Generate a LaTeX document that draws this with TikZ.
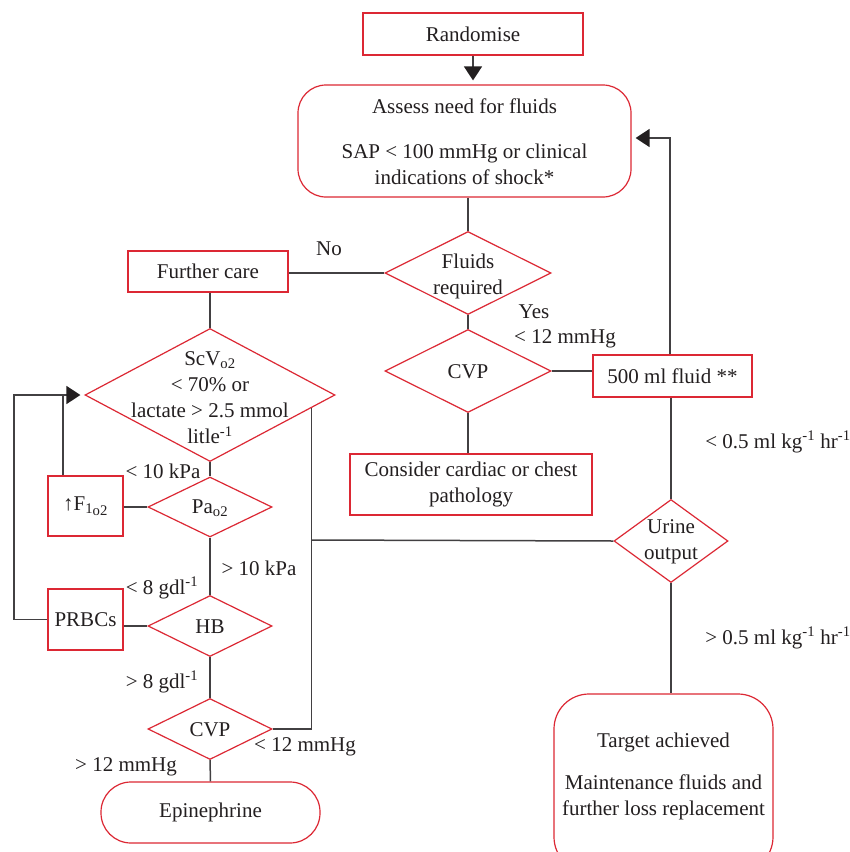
\documentclass[tikz,border=0pt]{standalone}
\usepackage{fontspec}
\setmainfont{Liberation Serif}
\usetikzlibrary{shapes.geometric,arrows.meta,calc}
\definecolor{redb}{RGB}{220,40,52}
\definecolor{lineg}{RGB}{66,64,66}
\definecolor{ink}{RGB}{35,31,32}
\tikzset{
  box/.style={draw=redb, line width=1.2pt, rectangle, inner sep=0pt, fill=white, text=ink, font=\fs, align=center},
  dia/.style={draw=redb, line width=1.2pt, diamond, inner sep=0pt, fill=white},
  txt/.style={text=ink, align=center, font=\fs, inner sep=0pt},
  conn/.style={draw=lineg, line width=1.5pt},
  arr/.style={conn, -{Triangle[length=14pt,width=18pt,color=ink]}, shorten >=4pt},
}
\newcommand{\fs}{\fontsize{21}{26}\selectfont}
\begin{document}
\begin{tikzpicture}[x=1pt,y=-1pt]
\clip (0,0) rectangle (850,852);
\fill[white] (0,0) rectangle (850,852);

% shapes
\node[box, minimum width=220pt, minimum height=42pt] (rand) at (473,34) {Randomise};
\node[box, rounded corners=28pt, minimum width=333pt, minimum height=112pt] (assess) at (464.5,141) {};
\node[txt] (assesst) at (464.5,142) {Assess need for fluids\\[19pt]SAP < 100 mmHg or clinical\\indications of shock*};
\node[dia, minimum width=166pt, minimum height=83pt] (fluids) at (468,273) {};
\node[txt] (fluidst) at (468,276) {Fluids\\required};
\node[box, minimum width=160pt, minimum height=41pt] (fcare) at (208,271.5) {Further care};
\node[dia, minimum width=250pt, minimum height=133pt] (scv) at (210,395) {};
\node[txt] (scvt) at (210,398) {ScV\textsubscript{o2}\\< 70\% or\\lactate > 2.5 mmol\\litle\textsuperscript{-1}};
\node[dia, minimum width=166pt, minimum height=83pt] (cvp) at (468,371) {};
\node[txt] (cvpt) at (468,372) {CVP};
\node[box, minimum width=159pt, minimum height=42pt] (f500) at (672.5,376) {500 ml fluid **};
\node[box, minimum width=242pt, minimum height=61pt] (consider) at (471,484.5) {Consider cardiac or chest\\pathology};
\node[dia, minimum width=114pt, minimum height=83pt] (urine) at (671,541) {};
\node[txt] (urinet) at (671,542) {Urine\\output};
\node[box, rounded corners=35pt, minimum width=219pt, minimum height=178pt] (target) at (663.5,783) {};
\node[txt] (targett) at (663.5,776.5) {Target achieved\\[16pt]Maintenance fluids and\\further loss replacement};
\node[box, minimum width=75pt, minimum height=60pt] (fio) at (85.5,506) {↑F\textsubscript{\raisebox{2pt}{1}o2}};
\node[dia, minimum width=124pt, minimum height=60pt] (pao) at (210,507) {};
\node[txt] (paot) at (210,508) {Pa\textsubscript{o2}};
\node[box, minimum width=75pt, minimum height=61pt] (prbc) at (85.5,619.5) {PRBCs};
\node[dia, minimum width=124pt, minimum height=61pt] (hb) at (210,626) {};
\node[txt] (hbt) at (210,627) {HB};
\node[dia, minimum width=124pt, minimum height=61pt] (cvpb) at (210,729) {};
\node[txt] (cvpbt) at (210,730) {CVP};
\node[box, rounded corners=30pt, minimum width=219pt, minimum height=61pt] (epi) at (210.5,812.5) {Epinephrine};

% helper coordinates
\coordinate (c1) at (63,395);
\coordinate (c2) at (14,395);
\coordinate (c3) at (670,138);
\coordinate (j) at (311,540);
\coordinate (scvedge) at ($(scv.east)!0.19!(scv.south)$);

% connectors
\draw[arr] (rand.south) -- (rand.south |- assess.north);
\draw[conn] (assess.south -| fluids.north) -- (fluids.north);
\draw[conn] (fluids.west) -- (fluids.west -| fcare.east);
\draw[conn] (fluids.south) -- (cvp.north);
\draw[conn] (cvp.east) -- (cvp.east -| f500.west);
\draw[conn] (cvp.south) -- (cvp.south |- consider.north);
\draw[arr] (f500.north -| c3) |- (assess.east |- c3);
\draw[conn] (f500.south -| urine.north) -- (urine.north);
\draw[conn] (urine.south) -- (urine.south |- target.north);
\draw[conn] (urine.west) -- (j);
\draw[conn] (cvpb.east) -| (scvedge);
\draw[conn] (fcare.south -| scv.north) -- (scv.north);
\draw[conn] (scv.south) -- (pao.north);
\draw[conn] (pao.south) -- (hb.north);
\draw[conn] (hb.south) -- (cvpb.north);
\draw[conn] (cvpb.south) -- (epi.north);
\draw[conn] (fio.east |- pao.west) -- (pao.west);
\draw[conn] (prbc.east |- hb.west) -- (hb.west);
\draw[arr] (fio.north -| c1) |- (scv.west);
\draw[conn] (prbc.west) -| (c2) -- (c1);

% labels
\node[txt] (lno) at (329,249) {No};
\node[txt] (lyes) at (534,312) {Yes};
\node[txt] (l12a) at (565,339) {< 12 mmHg};
\node[txt] (l10a) at (163,471) {< 10 kPa};
\node[txt] (l10b) at (259,568) {> 10 kPa};
\node[txt] (l8a) at (162,588) {< 8 gdl\textsuperscript{-1}};
\node[txt] (l8b) at (162,682) {> 8 gdl\textsuperscript{-1}};
\node[txt] (l12b) at (305,747) {< 12 mmHg};
\node[txt] (l12c) at (126,767) {> 12 mmHg};
\node[txt] (lu1) at (778,442) {< 0.5 ml kg\textsuperscript{-1} hr\textsuperscript{-1}};
\node[txt] (lu2) at (778,638) {> 0.5 ml kg\textsuperscript{-1} hr\textsuperscript{-1}};
\end{tikzpicture}
\end{document}
